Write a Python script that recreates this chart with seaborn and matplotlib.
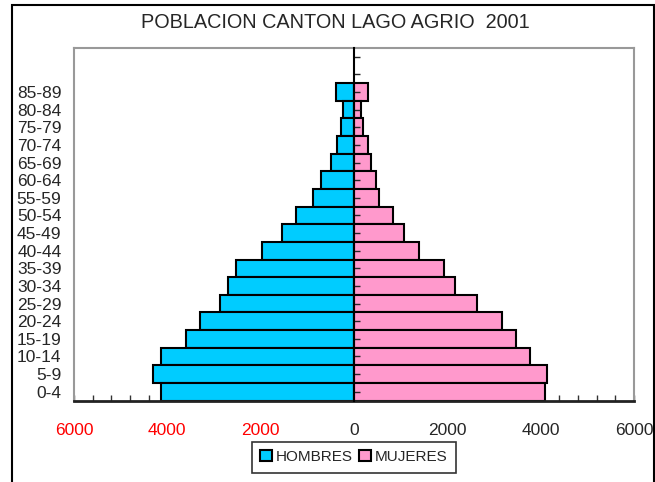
import pandas as pd
import matplotlib
matplotlib.use("Agg")
import matplotlib.pyplot as plt
import seaborn as sns
from matplotlib.patches import Patch, Rectangle
from matplotlib.ticker import FixedLocator, MultipleLocator

# =====================================================
# DATA
# =====================================================

edades = ["85-89", "80-84", "75-79", "70-74", "65-69", "60-64",
          "55-59", "50-54", "45-49", "40-44", "35-39", "30-34",
          "25-29", "20-24", "15-19", "10-14", "5-9", "0-4"]

hombres = [385, 235, 270, 363, 500, 700, 876, 1246, 1538, 1980,
           2536, 2700, 2870, 3297, 3596, 4130, 4301, 4130]

mujeres = [291, 156, 192, 291, 364, 463, 535, 827, 1070, 1398,
           1927, 2169, 2634, 3169, 3469, 3769, 4133, 4096]

x_ticks = [-6000, -4000, -2000, 0, 2000, 4000, 6000]
x_labels = ["6000", "4000", "2000", "0", "2000", "4000", "6000"]

df = pd.DataFrame({
    "edad": edades * 2,
    "valor": [-v for v in hombres] + mujeres,
    "sexo": ["HOMBRES"] * len(edades) + ["MUJERES"] * len(edades),
})

colores = {"HOMBRES": "#00CCFF", "MUJERES": "#FF99CC"}

# =====================================================
# PLOT
# =====================================================

sns.set_style("white")
plt.rcParams["font.family"] = ["Liberation Sans", "DejaVu Sans"]

fig = plt.figure(figsize=(6.55, 4.82), dpi=100)
ax = fig.add_axes([0.113, 0.169, 0.855, 0.7315])

sns.barplot(
    data=df, x="valor", y="edad", hue="sexo", order=edades,
    palette=colores, dodge=False, width=1, orient="h", saturation=1,
    edgecolor="black", linewidth=1.5, ax=ax, legend=False
)

ax.set_xlim(-6000, 6000)
ax.set_ylim(len(edades) - 0.5, -2.5)
ax.set_xlabel("")
ax.set_ylabel("")

ax.xaxis.set_major_locator(FixedLocator(x_ticks))
ax.set_xticklabels(x_labels)
ax.xaxis.set_minor_locator(MultipleLocator(400))
ax.tick_params(axis="x", which="both", direction="in", length=4,
               width=1, color="#333333", bottom=True, labelsize=12.5, pad=16)
for lbl in ax.get_xticklabels()[:3]:
    lbl.set_color("red")

ax.tick_params(axis="y", length=0, labelsize=12.5, pad=9)

for s in ["left", "top", "right"]:
    ax.spines[s].set_color("#999999")
    ax.spines[s].set_linewidth(1.5)
ax.spines["bottom"].set_color("#222222")
ax.spines["bottom"].set_linewidth(2)

# eje central con marcas
ax2 = ax.twinx()
ax2.set_ylim(ax.get_ylim())
for s in ["left", "top", "bottom"]:
    ax2.spines[s].set_visible(False)
ax2.spines["right"].set_position(("data", 0))
ax2.spines["right"].set_color("black")
ax2.spines["right"].set_linewidth(1.5)
ax2.set_yticks(range(-2, len(edades)))
ax2.tick_params(axis="y", direction="out", length=4, width=1,
                labelright=False)

# leyenda
handles = [Patch(facecolor=colores[k], edgecolor="black", linewidth=1.5)
           for k in colores]
leg = ax.legend(handles, list(colores), loc="upper center",
                bbox_to_anchor=(0.5, -0.117), ncol=2, fontsize=11,
                frameon=True, fancybox=False, edgecolor="black",
                handlelength=0.75, handleheight=0.75, handletextpad=0.3,
                columnspacing=0.4, borderpad=0.55, borderaxespad=0)
leg.get_frame().set_linewidth(1.2)

fig.text(0.512, 1 - 22 / 482, "POBLACION CANTON LAGO AGRIO  2001",
         ha="center", va="center", fontsize=14.3)

# marco de la figura
fig.add_artist(Rectangle((12 / 655, -0.1), 642 / 655 - 0.0005, 1.1 - 5 / 482,
                         transform=fig.transFigure, fill=False,
                         edgecolor="black", linewidth=1.5))

fig.savefig("out.png", dpi=100)
